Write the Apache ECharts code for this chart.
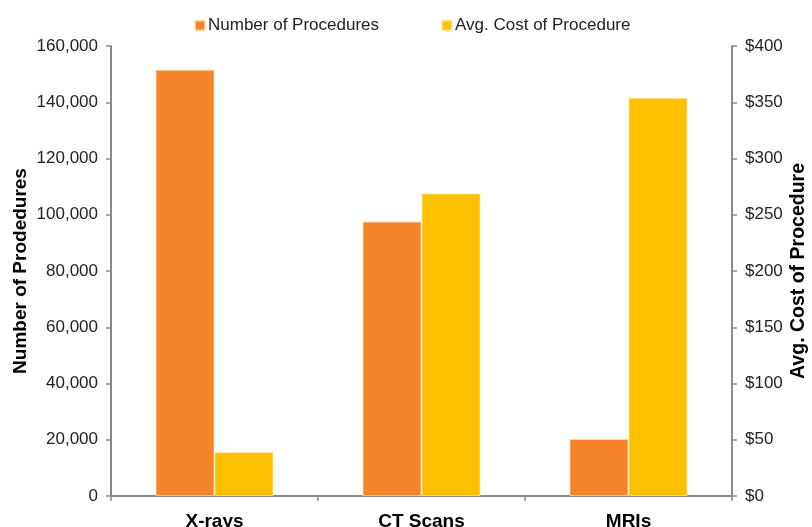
<!DOCTYPE html>
<html>
<head>
<meta charset="utf-8">
<script src="https://cdn.jsdelivr.net/npm/echarts@6/dist/echarts.min.js"></script>
<style>
  html, body { margin: 0; padding: 0; background: #fff; }
  #chart { width: 812px; height: 527px; }
</style>
</head>
<body>
<div id="chart"></div>
<script>
// Imaging procedures: volume vs. average cost
const categories = ['X-rays', 'CT Scans', 'MRIs'];
const procedureCounts = [151600, 97600, 20300];
const avgCosts = [39, 269, 354];
const countTicks = [0, 20000, 40000, 60000, 80000, 100000, 120000, 140000, 160000];
const costTicks = [0, 50, 100, 150, 200, 250, 300, 350, 400];

const ORANGE = '#F58528';
const YELLOW = '#FFC000';
const AXIS = '#8a8a8a';
const FONT = '"Liberation Sans", Arial, sans-serif';

const chart = echarts.init(document.getElementById('chart'), null, { renderer: 'canvas' });

function axisCommon() {
  return {
    axisLine: { show: true, lineStyle: { color: AXIS, width: 2 } },
    axisTick: { show: true, length: 5, lineStyle: { color: AXIS, width: 1.5 } },
    splitLine: { show: false }
  };
}

chart.setOption({
  animation: false,
  textStyle: { fontFamily: FONT },
  legend: {
    top: 12,
    left: 189,
    itemWidth: 10,
    itemHeight: 10,
    itemGap: 62,
    icon: 'rect',
    textStyle: { fontSize: 17, color: '#222', fontFamily: FONT, padding: [0, 0, 0, -2] },
    data: ['Number of Procedures', 'Avg. Cost of Procedure']
  },
  grid: {
    left: 111, right: 80, top: 46, bottom: 31,
    containLabel: false,
    outerBoundsMode: 'none'
  },
  xAxis: Object.assign(axisCommon(), {
    type: 'category',
    data: categories,
    axisTick: { show: true, length: 5, alignWithLabel: false, lineStyle: { color: AXIS, width: 1.5 } },
    axisLabel: { fontSize: 19, fontWeight: 'bold', color: '#000', margin: 16, fontFamily: FONT }
  }),
  yAxis: [
    Object.assign(axisCommon(), {
      type: 'value',
      position: 'left',
      min: countTicks[0],
      max: countTicks[countTicks.length - 1],
      interval: countTicks[1] - countTicks[0],
      name: 'Number of Prodedures',
      nameLocation: 'middle',
      nameRotate: 90,
      nameGap: 81,
      nameMoveOverlap: false,
      nameTextStyle: { fontSize: 19, fontWeight: 'bold', color: '#000', fontFamily: FONT },
      axisLabel: {
        fontSize: 17, color: '#222', margin: 13, fontFamily: FONT,
        formatter: v => v.toLocaleString('en-US')
      }
    }),
    Object.assign(axisCommon(), {
      type: 'value',
      position: 'right',
      min: costTicks[0],
      max: costTicks[costTicks.length - 1],
      interval: costTicks[1] - costTicks[0],
      name: 'Avg. Cost of Procedure',
      nameLocation: 'middle',
      nameRotate: 90,
      nameGap: 57,
      nameMoveOverlap: false,
      nameTextStyle: { fontSize: 19.5, fontWeight: 'bold', color: '#000', fontFamily: FONT },
      axisLabel: {
        fontSize: 17, color: '#222', margin: 13, fontFamily: FONT,
        formatter: v => '$' + v
      }
    })
  ],
  series: [
    {
      name: 'Number of Procedures',
      type: 'bar',
      yAxisIndex: 0,
      data: procedureCounts,
      barCategoryGap: '43%',
      barGap: '0%',
      itemStyle: { color: ORANGE, borderColor: 'rgba(255,230,200,0.7)', borderWidth: 1 }
    },
    {
      name: 'Avg. Cost of Procedure',
      type: 'bar',
      yAxisIndex: 1,
      data: avgCosts,
      barCategoryGap: '43%',
      barGap: '0%',
      itemStyle: { color: YELLOW, borderColor: 'rgba(255,235,180,0.7)', borderWidth: 1 }
    }
  ]
});
</script>
</body>
</html>
